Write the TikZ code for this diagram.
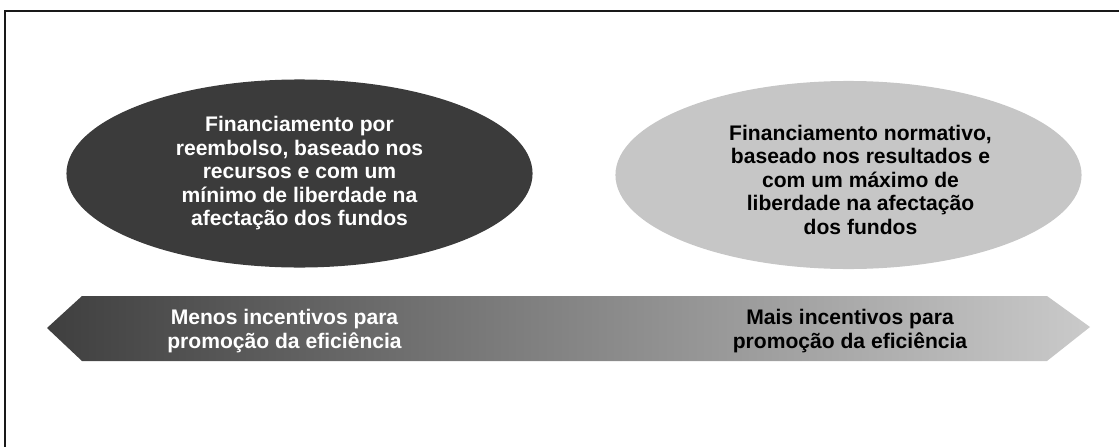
\documentclass[tikz,border=0pt]{standalone}
\usepackage{fontspec}
\setmainfont{Liberation Sans}
\usepackage{xcolor,tikz}
\usetikzlibrary{shapes.geometric}
\definecolor{ovaldark}{HTML}{3B3B3B}
\definecolor{ovallight}{HTML}{C6C6C6}
\definecolor{bandleft}{HTML}{3F3F3F}
\definecolor{bandright}{HTML}{CACACA}
\begin{document}
\begin{tikzpicture}[x=0.025cm,y=-0.025cm,
  every node/.style={font=\bfseries\fontsize{15}{16.7}\selectfont,align=center,inner sep=0pt},
  oval/.style={ellipse,minimum width=11.65cm,minimum height=4.7cm}]
\useasboundingbox (0,0) rectangle (1119,447);
\draw[black!90,line width=0.05cm] (5,450)--(5,11)--(1122,11);
% the two ellipses
\node[oval,fill=ovaldark] (reemb) at (299.5,173.5) {};
\node[text=white] (reembtxt) at (reemb.center) {Financiamento por\\reembolso, baseado nos\\recursos e com um\\mínimo de liberdade na\\afectação dos fundos};
\node[oval,fill=ovallight] (norm) at (848.5,175) {};
\node[text=black,xshift=0.3cm,yshift=-0.12cm] (normtxt) at (norm.center) {Financiamento normativo,\\baseado nos resultados e\\com um máximo de\\liberdade na afectação\\dos fundos};
% incentive arrow
\shade[left color=bandleft,right color=bandright]
  (47,328)--(82,296)--(1047,296)--(1090,327)--(1047,361)--(82,361)--cycle;
\node[text=white] (menos) at (284.5,331) {Menos incentivos para\\promoção da eficiência};
\node[text=black] (mais) at (850,331) {Mais incentivos para\\promoção da eficiência};
\end{tikzpicture}
\end{document}
